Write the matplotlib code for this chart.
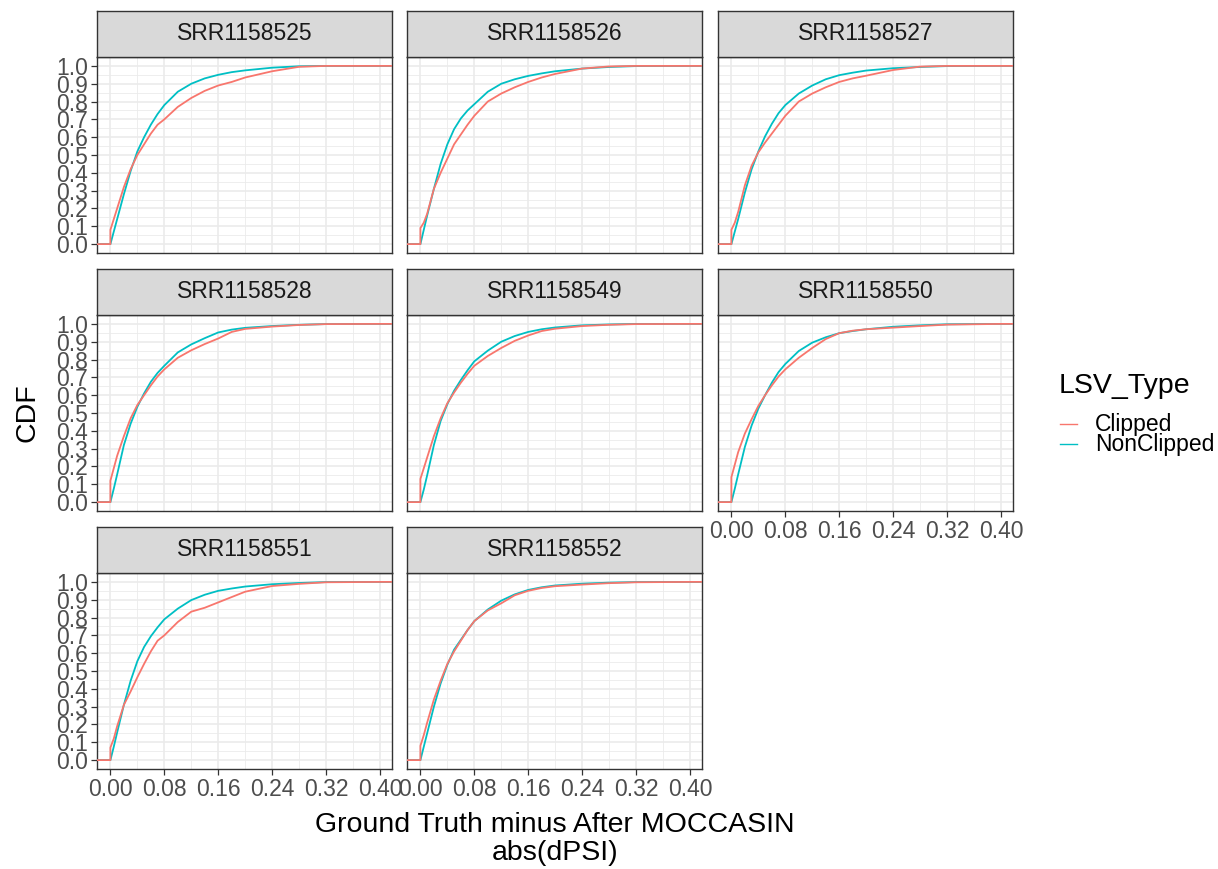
import matplotlib
matplotlib.use("Agg")
import matplotlib.pyplot as plt
from matplotlib.lines import Line2D
import numpy as np

plt.rcParams['font.family'] = ['Liberation Sans', 'DejaVu Sans']

# samples in facet order
samples = ["SRR1158525", "SRR1158526", "SRR1158527", "SRR1158528",
           "SRR1158549", "SRR1158550", "SRR1158551", "SRR1158552"]

# abs(dPSI) values where the cumulative fractions were taken
dpsi = [0.0, 0.005, 0.01, 0.02, 0.03, 0.04, 0.05, 0.06, 0.07, 0.08,
        0.10, 0.12, 0.14, 0.16, 0.18, 0.20, 0.24, 0.28, 0.32, 0.40]

# CDF of clipped LSVs
clipped_525 = [0.08, 0.14, 0.20, 0.32, 0.42, 0.50, 0.56, 0.62, 0.67, 0.70,
               0.77, 0.82, 0.86, 0.89, 0.91, 0.935, 0.97, 0.995, 1.0, 1.0]
clipped_526 = [0.09, 0.12, 0.17, 0.31, 0.40, 0.48, 0.56, 0.615, 0.67, 0.72,
               0.80, 0.845, 0.88, 0.91, 0.935, 0.955, 0.985, 0.997, 1.0, 1.0]
clipped_527 = [0.08, 0.12, 0.18, 0.33, 0.44, 0.515, 0.57, 0.62, 0.67, 0.72,
               0.80, 0.845, 0.88, 0.91, 0.93, 0.945, 0.977, 0.996, 1.0, 1.0]
clipped_528 = [0.12, 0.19, 0.26, 0.37, 0.47, 0.545, 0.60, 0.655, 0.705, 0.745,
               0.81, 0.852, 0.887, 0.918, 0.955, 0.972, 0.985, 0.994, 0.999, 1.0]
clipped_549 = [0.13, 0.19, 0.25, 0.37, 0.47, 0.555, 0.615, 0.67, 0.72, 0.765,
               0.82, 0.865, 0.905, 0.935, 0.96, 0.973, 0.988, 0.995, 0.999, 1.0]
clipped_550 = [0.14, 0.21, 0.28, 0.385, 0.465, 0.54, 0.60, 0.655, 0.705, 0.745,
               0.81, 0.865, 0.915, 0.948, 0.962, 0.97, 0.979, 0.988, 0.996, 1.0]
clipped_551 = [0.07, 0.12, 0.19, 0.31, 0.385, 0.465, 0.54, 0.61, 0.67, 0.70,
               0.775, 0.833, 0.855, 0.885, 0.915, 0.945, 0.977, 0.989, 0.998, 1.0]
clipped_552 = [0.08, 0.14, 0.21, 0.34, 0.445, 0.54, 0.61, 0.67, 0.73, 0.78,
               0.84, 0.88, 0.925, 0.95, 0.966, 0.976, 0.985, 0.993, 0.998, 1.0]

# CDF of non-clipped LSVs
nonclipped_525 = [0.0, 0.07, 0.14, 0.28, 0.41, 0.52, 0.60, 0.67, 0.73, 0.78,
                  0.855, 0.90, 0.93, 0.95, 0.965, 0.975, 0.99, 0.998, 1.0, 1.0]
nonclipped_526 = [0.0, 0.08, 0.16, 0.31, 0.45, 0.56, 0.645, 0.705, 0.75, 0.785,
                  0.855, 0.90, 0.925, 0.944, 0.958, 0.97, 0.985, 0.994, 0.999, 1.0]
nonclipped_527 = [0.0, 0.07, 0.14, 0.29, 0.42, 0.52, 0.605, 0.675, 0.735, 0.78,
                  0.845, 0.89, 0.925, 0.948, 0.962, 0.974, 0.987, 0.994, 0.999, 1.0]
nonclipped_528 = [0.0, 0.075, 0.155, 0.32, 0.44, 0.535, 0.61, 0.675, 0.725, 0.765,
                  0.84, 0.885, 0.92, 0.952, 0.968, 0.978, 0.988, 0.995, 0.999, 1.0]
nonclipped_549 = [0.0, 0.07, 0.15, 0.32, 0.455, 0.55, 0.625, 0.685, 0.74, 0.79,
                  0.85, 0.90, 0.932, 0.955, 0.97, 0.98, 0.992, 0.997, 1.0, 1.0]
nonclipped_550 = [0.0, 0.075, 0.155, 0.31, 0.43, 0.525, 0.60, 0.67, 0.73, 0.775,
                  0.848, 0.895, 0.925, 0.948, 0.96, 0.97, 0.984, 0.992, 0.998, 1.0]
nonclipped_551 = [0.0, 0.075, 0.155, 0.31, 0.445, 0.555, 0.635, 0.695, 0.745, 0.79,
                  0.85, 0.898, 0.928, 0.95, 0.963, 0.974, 0.987, 0.994, 0.999, 1.0]
nonclipped_552 = [0.0, 0.075, 0.15, 0.30, 0.43, 0.535, 0.62, 0.675, 0.73, 0.78,
                  0.845, 0.895, 0.93, 0.955, 0.97, 0.98, 0.99, 0.996, 0.999, 1.0]

clipped = [clipped_525, clipped_526, clipped_527, clipped_528,
           clipped_549, clipped_550, clipped_551, clipped_552]
nonclipped = [nonclipped_525, nonclipped_526, nonclipped_527, nonclipped_528,
              nonclipped_549, nonclipped_550, nonclipped_551, nonclipped_552]

RED = "#F8766D"
TEAL = "#00BFC4"
W, H = 1218, 869

fig = plt.figure(figsize=(W / 100, H / 100), dpi=100)


def px_axes(left, top, width, height):
    return fig.add_axes([left / W, 1 - (top + height) / H, width / W, height / H])


# x range of the data with ggplot-style 5% expansion
x_max = 0.398
xlo, xhi = -0.05 * x_max, 1.05 * x_max

col_left = [97, 407, 718]
row_top = [57, 315, 573]
pw, ph, sh = 295, 196, 46

for i, name in enumerate(samples):
    r, c = divmod(i, 3)
    ax = px_axes(col_left[c], row_top[r], pw, ph)

    xs = [xlo, 0.0] + dpsi + [xhi]
    ax.plot(xs, [0, 0] + nonclipped[i] + [1], color=TEAL, lw=1.3, zorder=3)
    ax.plot(xs, [0, 0] + clipped[i] + [1], color=RED, lw=1.3, zorder=3)

    ax.set_xlim(xlo, xhi)
    ax.set_ylim(-0.05, 1.05)
    ax.set_xticks(np.arange(0, 0.41, 0.08))
    ax.set_xticks(np.arange(0.04, 0.41, 0.08), minor=True)
    ax.set_yticks(np.arange(0, 1.01, 0.1))
    ax.set_yticks(np.arange(0.05, 1.0, 0.1), minor=True)
    ax.grid(which='major', color='#EBEBEB', lw=1.2, zorder=0)
    ax.grid(which='minor', color='#EBEBEB', lw=0.6, zorder=0)
    ax.set_axisbelow(True)
    for s in ax.spines.values():
        s.set_color('#333333')
        s.set_linewidth(1.0)

    ax.tick_params(which='minor', length=0)
    ax.tick_params(which='major', length=4, width=0.9, color='#333333',
                   labelsize=16.5, labelcolor='#4D4D4D', pad=2.5)
    ax.set_xticklabels(["0.00", "0.08", "0.16", "0.24", "0.32", "0.40"])
    ax.set_yticklabels([f"{v:.1f}" for v in np.arange(0, 1.01, 0.1)])
    if c != 0:
        ax.tick_params(axis='y', left=False, labelleft=False)
    if i < 5:
        ax.tick_params(axis='x', bottom=False, labelbottom=False)

    # facet strip
    st = px_axes(col_left[c], row_top[r] - sh, pw, sh)
    st.set_facecolor('#D9D9D9')
    st.set_xticks([])
    st.set_yticks([])
    for s in st.spines.values():
        s.set_color('#333333')
        s.set_linewidth(1.0)
    st.text(0.5, 0.5, name, ha='center', va='center', fontsize=16.5,
            color='#1A1A1A', transform=st.transAxes)

# axis titles
fig.text(27 / W, 1 - 413 / H, "CDF", rotation=90, ha='center', va='center',
         fontsize=20.5)
fig.text(555 / W, 1 - 812 / H, "Ground Truth minus After MOCCASIN\nabs(dPSI)",
         ha='center', va='top', fontsize=20.5, linespacing=1.12)

# legend
fig.text(1059 / W, 1 - 393 / H, "LSV_Type", ha='left', va='baseline',
         fontsize=20.5)
for label, color, yc in [("Clipped", RED, 424), ("NonClipped", TEAL, 444)]:
    fig.add_artist(Line2D([1060 / W, 1077 / W], [1 - yc / H, 1 - yc / H],
                          color=color, lw=1.0, transform=fig.transFigure))
    fig.text(1095 / W, 1 - yc / H, label, ha='left', va='center',
             fontsize=16.5)

fig.savefig("out.png", dpi=100)
